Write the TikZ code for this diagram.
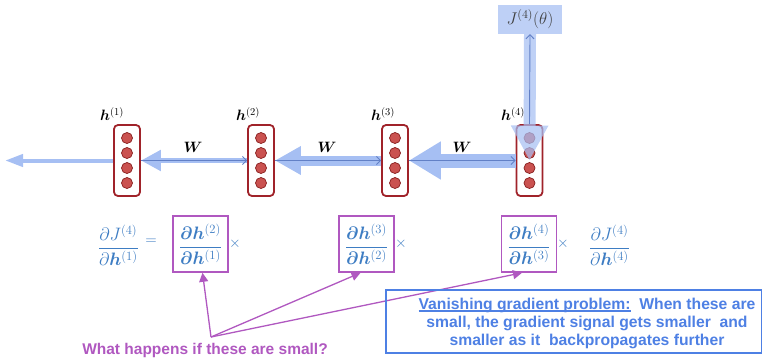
\RequirePackage{fix-cm}
\documentclass[tikz,border=0pt]{standalone}
\usepackage{amsmath,bm}
\usepackage{fontspec}
\setsansfont{Liberation Sans}
\usetikzlibrary{arrows.meta,calc}
\definecolor{fatblue}{RGB}{166,191,243}
\definecolor{thinblue}{RGB}{98,128,198}
\definecolor{cellred}{RGB}{160,35,42}
\definecolor{dotred}{RGB}{202,82,80}
\definecolor{dotedge}{RGB}{135,30,30}
\definecolor{mathblue}{RGB}{62,125,195}
\definecolor{purp}{RGB}{176,88,192}
\definecolor{vgblue}{RGB}{78,128,228}
\definecolor{jfill}{RGB}{190,208,246}
\newcommand{\myul}[1]{\setbox0\hbox{#1}\rlap{\rule[-2.6pt]{\wd0}{1.3pt}}\box0}
\newcommand{\bpd}{\bm{\partial}}
\tikzset{
  cell/.style={draw=cellred, line width=1.8pt, rounded corners=4pt, minimum width=26pt, minimum height=71pt, inner sep=0pt},
  dotc/.style={fill=dotred, draw=dotedge, line width=0.7pt},
  fat/.style={draw=fatblue},
  thin/.style={draw=thinblue, line width=0.9pt, -{Straight Barb[length=4pt,width=8pt]}},
  hlab/.style={font=\fontsize{15}{18}\selectfont, inner sep=0pt},
  mathc/.style={text=mathblue, font=\fontsize{18}{21}\selectfont, inner sep=0pt},
  timesc/.style={text=mathblue, font=\fontsize{15}{18}\selectfont, inner sep=0pt},
  pbox/.style={draw=purp, line width=1.6pt, minimum width=55pt, minimum height=56pt, inner sep=0pt, text=mathblue, font=\fontsize{18}{21}\selectfont},
  parrow/.style={draw=purp, line width=1.3pt, -{Triangle[length=9pt,width=9pt]}},
}
\begin{document}
\begin{tikzpicture}[x=1pt,y=-1pt]
\useasboundingbox (0,0) rectangle (762,357);
% cells
\foreach \n/\x in {1/127,2/261,3/395,4/529.5}{
  \node[cell] (h\n) at (\x,160.5) {};
}
\foreach \n in {1,...,4}{
  \foreach \d in {-22.5,-7.5,7.5,22.5}{
    \draw[dotc] ($(h\n.center)+(0,\d)$) circle (5.5pt);
  }
}
% labels
\node[hlab] (l1) at (112,114) {$\bm h^{(1)}$};
\node[hlab] (l2) at (248,114) {$\bm h^{(2)}$};
\node[hlab] (l3) at (383,114) {$\bm h^{(3)}$};
\node[hlab] (l4) at (513,114) {$\bm h^{(4)}$};
\node[hlab] (w1) at (193,147) {$\bm W$};
\node[hlab] (w2) at (327,147) {$\bm W$};
\node[hlab] (w3) at (462,147) {$\bm W$};
% J box
\node[fill=jfill, minimum width=64pt, minimum height=29pt, inner sep=0pt, font=\fontsize{17}{20}\selectfont, text=black!75] (J) at (530,19.5) {$J^{(4)}(\theta)$};
% fat arrows
\coordinate (leftend) at (5,160.5);
\draw[fat, line width=4pt, -{Triangle[length=18pt,width=12pt]}] (h1.west) -- (leftend);
\draw[fat, line width=5pt, -{Triangle[length=20pt,width=20pt]}] (h2.west) -- (h1.east);
\draw[fat, line width=10pt, -{Triangle[length=26pt,width=27pt]}] (h3.west) -- (h2.east);
\draw[fat, line width=14pt, -{Triangle[length=32pt,width=36pt]}] (h4.west) -- (h3.east);
\begin{scope}[transparency group, opacity=0.72]
\draw[fat, line width=12pt, -{Triangle[length=35pt,width=35pt]}] (J.south) -- (h4.center);
\end{scope}
% thin arrows
\draw[thin] (h1.east) -- (h2.west);
\draw[thin] (h2.east) -- (h3.west);
\draw[thin] (h3.east) -- (h4.west);
\draw[thin] (h4.north) -- (J.south);
% math row
\node[mathc, anchor=east] (lhs) at (139,245) {$\dfrac{\partial J^{(4)}}{\partial\bm h^{(1)}}$};
\node[timesc] (eq) at (151,242) {$=$};
\node[pbox] (f1) at (200.5,244) {$\dfrac{\bpd\bm h^{(2)}}{\bpd\bm h^{(1)}}$};
\node[timesc] (x1) at (235,244) {$\times$};
\node[pbox] (f2) at (366.5,244) {$\dfrac{\bpd\bm h^{(3)}}{\bpd\bm h^{(2)}}$};
\node[timesc] (x2) at (401,244) {$\times$};
\node[pbox] (f3) at (529,244) {$\dfrac{\bpd\bm h^{(4)}}{\bpd\bm h^{(3)}}$};
\node[timesc] (x3) at (563,244) {$\times$};
\node[mathc] (rhs) at (609.5,245) {$\dfrac{\partial J^{(4)}}{\partial\bm h^{(4)}}$};
% question
\coordinate (P) at (211,337);
\draw[parrow] (P) -- ($(f1.south)+(2,0)$);
\draw[parrow] (P) -- ($(f2.south)+(-6,0)$);
\draw[parrow] (P) -- ($(f3.south)+(-7,0)$);
\node[text=purp, font=\sffamily\bfseries\fontsize{15.5}{18}\selectfont, inner sep=0pt, anchor=base] (q) at (205,354.5) {What happens if these are small?};
% vanishing box
\node[draw=vgblue, line width=1.8pt, minimum width=376pt, minimum height=63pt, inner sep=0pt] (vgbox) at (574,321.5) {};
\node[text=vgblue, font=\sffamily\bfseries\fontsize{15.7}{18}\selectfont, align=center, inner sep=0pt] (vgtext) at (587,323) {\myul{Vanishing gradient problem:}\ \ When these are\\ small, the gradient signal gets smaller\ \ and\\ smaller as it\ \ backpropagates further};
\end{tikzpicture}
\end{document}
